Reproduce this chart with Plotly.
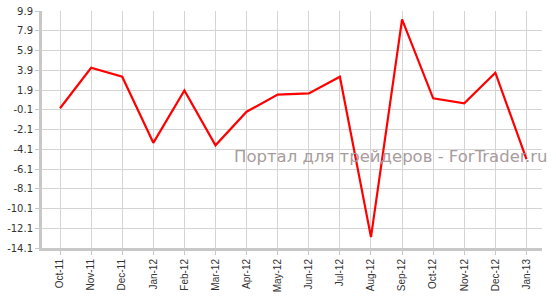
import plotly.graph_objects as go

months = ["Oct-11", "Nov-11", "Dec-11", "Jan-12", "Feb-12", "Mar-12", "Apr-12", "May-12",
          "Jun-12", "Jul-12", "Aug-12", "Sep-12", "Oct-12", "Nov-12", "Dec-12", "Jan-13"]
values = [0.05, 4.15, 3.25, -3.45, 1.85, -3.7, -0.3, 1.43, 1.55, 3.25, -13.0, 9.05, 1.06, 0.55, 3.65, -5.1]
y_ticks = [9.9, 7.9, 5.9, 3.9, 1.9, -0.1, -2.1, -4.1, -6.1, -8.1, -10.1, -12.1, -14.1]
watermark = "Портал для трейдеров - ForTrader.ru"

fig = go.Figure()
fig.add_trace(go.Scatter(x=months, y=values, mode="lines",
                         line=dict(color="#ff0000", width=2.2), hoverinfo="skip"))

fig.update_layout(
    width=556, height=296,
    margin=dict(l=42, r=14, t=11, b=48, autoexpand=False),
    paper_bgcolor="white", plot_bgcolor="white",
    showlegend=False,
    font=dict(family="DejaVu Sans", size=10, color="#333333"),
)
fig.update_xaxes(
    type="category", categoryorder="array", categoryarray=months,
    range=[-0.58, 15.5],
    showgrid=True, gridcolor="#d4d4d4", gridwidth=1,
    showline=True, linecolor="#c8c8c8", linewidth=3,
    ticks="outside", ticklen=4, tickcolor="#c8c8c8",
    tickangle=-90, tickfont=dict(family="Liberation Sans", size=10, color="#333333"),
    zeroline=False, automargin=False,
)
fig.update_yaxes(
    range=[-14.1, 9.9],
    tickvals=y_ticks, ticktext=[f"{v:.1f}" for v in y_ticks],
    showgrid=True, gridcolor="#d4d4d4", gridwidth=1,
    showline=True, linecolor="#c8c8c8", linewidth=3,
    ticks="outside", ticklen=4, tickcolor="#c8c8c8",
    tickfont=dict(family="DejaVu Sans", size=10, color="#333333"),
    zeroline=False, automargin=False,
)
fig.add_annotation(
    text=watermark, xref="paper", yref="paper", x=1.016, y=0.388,
    xanchor="right", yanchor="middle", showarrow=False,
    font=dict(family="DejaVu Sans", size=16.5, color="#a89c9c"),
)
fig.write_html("out.html")
